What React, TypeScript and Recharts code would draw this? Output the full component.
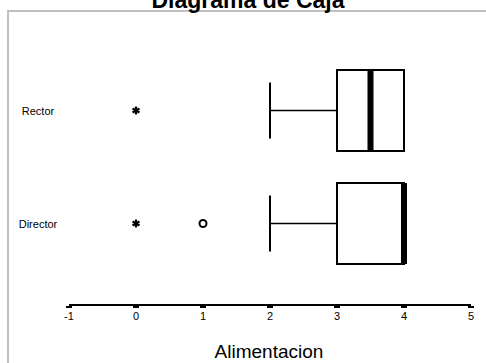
import { Bar, ComposedChart, XAxis, YAxis } from "recharts";

const categories = ["Rector", "Director"];
const lowerWhiskers = [2, 2];
const q1Values = [3, 3];
const medianValues = [3.5, 4];
const q3Values = [4, 4];
const upperWhiskers = [4, 4];
// kind: "extreme" = asterisk, "outlier" = circle
const outlierValues = [[0], [0, 1]];
const outlierKinds = [["extreme"], ["extreme", "outlier"]];
const xTicks = [-1, 0, 1, 2, 3, 4, 5];

const data = categories.map((name, i) => ({
  name,
  range: [lowerWhiskers[i], upperWhiskers[i]],
  q1: q1Values[i],
  median: medianValues[i],
  q3: q3Values[i],
  outliers: outlierValues[i].map((v, j) => ({ value: v, kind: outlierKinds[i][j] })),
}));

const FONT = "'Liberation Sans', Arial, sans-serif";

function Asterisk({ cx, cy }: { cx: number; cy: number }) {
  const r = 4;
  const lines = [0, 60, 120].map((deg) => {
    const a = (deg * Math.PI) / 180;
    return (
      <line
        key={deg}
        x1={cx - r * Math.sin(a)}
        y1={cy - r * Math.cos(a)}
        x2={cx + r * Math.sin(a)}
        y2={cy + r * Math.cos(a)}
        stroke="#000"
        strokeWidth={2.2}
      />
    );
  });
  return (
    <g>
      {lines}
      <circle cx={cx} cy={cy} r={2} fill="#000" />
    </g>
  );
}

function BoxShape(props: any) {
  const { x, y, width, height, payload } = props;
  const [low, high] = payload.range;
  const px = (v: number) => x + ((v - low) * width) / (high - low);
  const cy = y + height / 2;
  const capHalf = height * 0.345;
  const boxLeft = px(payload.q1);
  const boxRight = px(payload.q3);
  const med = px(payload.median);
  return (
    <g>
      {/* lower whisker */}
      <line x1={px(low)} y1={cy} x2={boxLeft} y2={cy} stroke="#000" strokeWidth={1.5} />
      <line x1={px(low)} y1={cy - capHalf} x2={px(low)} y2={cy + capHalf} stroke="#000" strokeWidth={2} />
      {/* upper whisker */}
      {high > payload.q3 && (
        <g>
          <line x1={boxRight} y1={cy} x2={px(high)} y2={cy} stroke="#000" strokeWidth={1.5} />
          <line x1={px(high)} y1={cy - capHalf} x2={px(high)} y2={cy + capHalf} stroke="#000" strokeWidth={2} />
        </g>
      )}
      <rect x={boxLeft} y={y} width={boxRight - boxLeft} height={height} fill="#fff" stroke="#000" strokeWidth={2} />
      <rect x={med - 3} y={y} width={6} height={height} fill="#000" />
      {payload.outliers.map((o: any, i: number) =>
        o.kind === "extreme" ? (
          <Asterisk key={i} cx={px(o.value)} cy={cy} />
        ) : (
          <circle key={i} cx={px(o.value)} cy={cy} r={3.5} fill="#fff" stroke="#000" strokeWidth={2} />
        )
      )}
    </g>
  );
}

function XTick(props: any) {
  const { x, y, payload } = props;
  return (
    <g>
      <rect x={x - 3} y={y + 1} width={6} height={2} fill="#000" />
      <text x={x} y={y + 15} textAnchor="middle" fontSize={11} fontFamily={FONT} fill="#000">
        {payload.value}
      </text>
    </g>
  );
}

function YTick(props: any) {
  const { y, payload } = props;
  return (
    <text x={38} y={y + 4} textAnchor="middle" fontSize={11} fontFamily={FONT} fill="#000">
      {payload.value}
    </text>
  );
}

export default function App() {
  return (
    <div style={{ position: "relative", width: 486, height: 363, overflow: "hidden", background: "#fff" }}>
      <style>{"body{margin:0}"}</style>
      <div
        style={{
          position: "absolute",
          left: 7,
          top: 10,
          width: 520,
          height: 420,
          border: "2px solid #c0c0c0",
          boxSizing: "border-box",
        }}
      />
      <div
        style={{
          position: "absolute",
          left: 0,
          top: -11,
          width: 496,
          textAlign: "center",
          fontFamily: FONT,
          fontWeight: "bold",
          fontSize: 23,
          lineHeight: "23px",
          color: "#000",
        }}
      >
        Diagrama de Caja
      </div>
      <div style={{ position: "absolute", left: 0, top: 0 }}>
        <ComposedChart
          width={486}
          height={363}
          layout="vertical"
          data={data}
          margin={{ top: 54, right: 15, bottom: 0, left: 9 }}
          barSize={81}
        >
          <XAxis
            type="number"
            domain={[-1, 5]}
            ticks={xTicks}
            interval={0}
            axisLine={{ stroke: "#000", strokeWidth: 2 }}
            tickLine={false}
            tickSize={0}
            tickMargin={0}
            tick={<XTick />}
            height={58}
          />
          <YAxis
            type="category"
            dataKey="name"
            width={60}
            axisLine={false}
            tickLine={false}
            tick={<YTick />}
            padding={{ top: 0, bottom: 25 }}
          />
          <Bar dataKey="range" shape={<BoxShape />} isAnimationActive={false} />
        </ComposedChart>
      </div>
      <div
        style={{
          position: "absolute",
          left: 0,
          top: 342,
          width: 538,
          textAlign: "center",
          fontFamily: FONT,
          fontSize: 19,
          lineHeight: "19px",
          color: "#000",
        }}
      >
        Alimentacion
      </div>
    </div>
  );
}
